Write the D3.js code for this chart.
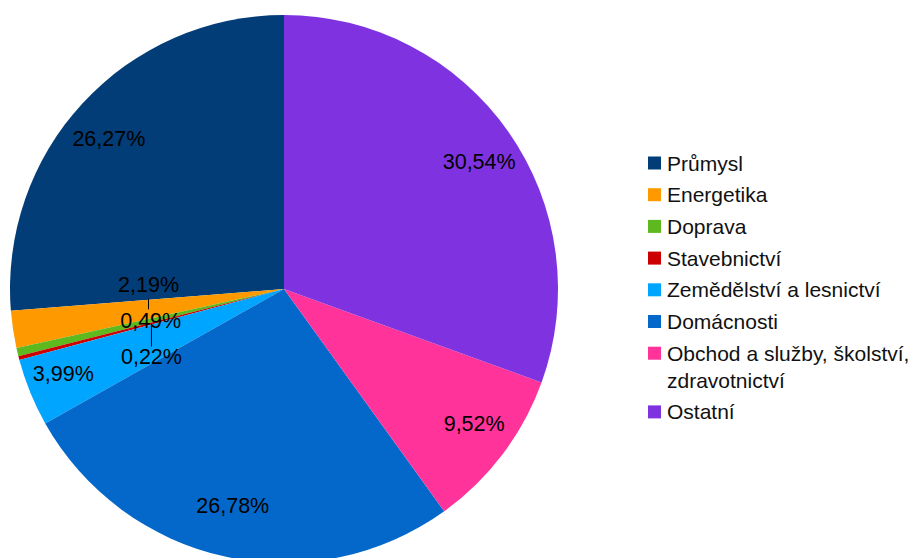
<!DOCTYPE html>
<html lang="cs">
<head>
    <meta charset="UTF-8">
    <title>Struktura</title>
    <script src="https://d3js.org/d3.v7.min.js"></script>
    <style>
        html, body {
            margin: 0;
            background: #fff;
        }
        text {
            font-family: "Liberation Sans", Arial, sans-serif;
        }
    </style>
</head>
<body>
<div id="vis"></div>
<script type="text/javascript">
var categories = ["Průmysl", "Energetika", "Doprava", "Stavebnictví",
    "Zemědělství a lesnictví", "Domácnosti",
    "Obchod a služby, školství, zdravotnictví", "Ostatní"];
var values = [26.27, 2.19, 0.49, 0.22, 3.99, 26.78, 9.52, 30.54];
var labels = ["26,27%", "2,19%", "0,49%", "0,22%", "3,99%", "26,78%", "9,52%", "30,54%"];
var legendLines = [["Průmysl"], ["Energetika"], ["Doprava"], ["Stavebnictví"],
    ["Zemědělství a lesnictví"], ["Domácnosti"],
    ["Obchod a služby, školství,", "zdravotnictví"], ["Ostatní"]];
var colours = ["#023d77", "#ff9900", "#5eb91e", "#cc0000",
    "#00a5ff", "#0368c9", "#ff3399", "#7f33e0"];

var width = 921,
    height = 558;

var cx = 284,
    cy = 289,
    radius = 274;

var svg = d3.select('#vis')
    .append('svg')
    .attr('width', width)
    .attr('height', height);

var colour_scale = d3.scaleOrdinal()
    .domain(categories)
    .range(colours);

var data = categories.map(function(c, i) {
    return {name: c, value: values[i], label: labels[i]};
});

// counterclockwise from 12 o'clock, like the original
var pie = d3.pie()
    .sort(null)
    .value(function(d) { return d.value; })
    .startAngle(0)
    .endAngle(-2 * Math.PI);

var arcs = pie(data);

var arc = d3.arc()
    .innerRadius(0)
    .outerRadius(radius);

var g = svg.append('g')
    .attr('transform', 'translate(' + cx + ',' + cy + ')');

g.selectAll('.slice')
    .data(arcs)
    .enter()
    .append('path')
    .attr('class', 'slice')
    .attr('d', arc)
    .attr('fill', function(d) { return colour_scale(d.data.name); });

// labels: big slices near the rim, small ones at half radius and spread apart
var unitArc = d3.arc().innerRadius(1).outerRadius(1);
var labelRx = radius * 0.87,
    labelRy = radius * 0.81;
var smallArc = d3.arc().innerRadius(radius * 0.5).outerRadius(radius * 0.5);

var fontSize = 21.5;
var spacing = 36;

var small = arcs.filter(function(d) { return d.data.value < 3; });
var big = arcs.filter(function(d) { return d.data.value >= 3; });

big.forEach(function(d) {
    var c = unitArc.centroid(d);
    d.lx = c[0] * labelRx;
    d.ly = c[1] * labelRy;
});

small.forEach(function(d) {
    var c = smallArc.centroid(d);
    d.ax = c[0];
    d.ay = c[1];
});
small.sort(function(a, b) { return a.ay - b.ay; });
var mid = small[Math.floor(small.length / 2)].ay;
small.forEach(function(d, i) {
    d.lx = d.ax;
    d.ly = mid + (i - (small.length - 1) / 2) * spacing;
});

// leader lines for moved labels
small.forEach(function(d) {
    var dy = d.ly - d.ay;
    if (Math.abs(dy) < 10) return;
    var edge = dy < 0 ? d.ly + 14 : d.ly - 10;
    g.append('line')
        .attr('x1', d.ax)
        .attr('y1', d.ay)
        .attr('x2', d.ax)
        .attr('y2', edge)
        .attr('stroke', '#000')
        .attr('stroke-width', 1);
});

g.selectAll('.lbl')
    .data(big.concat(small))
    .enter()
    .append('text')
    .attr('class', 'lbl')
    .attr('x', function(d) { return d.lx; })
    .attr('y', function(d) { return d.ly; })
    .attr('dy', '0.36em')
    .attr('text-anchor', 'middle')
    .attr('font-size', fontSize)
    .attr('fill', '#000')
    .text(function(d) { return d.data.label; });

// legend
var legend = svg.append('g')
    .attr('transform', 'translate(648,163)');

var rowStep = 31.7,
    lineStep = 27;

var y = 0;
legendLines.forEach(function(lines, i) {
    var item = legend.append('g')
        .attr('transform', 'translate(0,' + y + ')');
    item.append('rect')
        .attr('x', 0)
        .attr('y', -6.5)
        .attr('width', 13)
        .attr('height', 13)
        .attr('fill', colours[i]);
    lines.forEach(function(t, j) {
        item.append('text')
            .attr('x', 19)
            .attr('y', j * lineStep)
            .attr('dy', '0.36em')
            .attr('font-size', 21)
            .attr('fill', '#111')
            .text(t);
    });
    y += rowStep + (lines.length - 1) * lineStep;
});
</script>
</body>
</html>
